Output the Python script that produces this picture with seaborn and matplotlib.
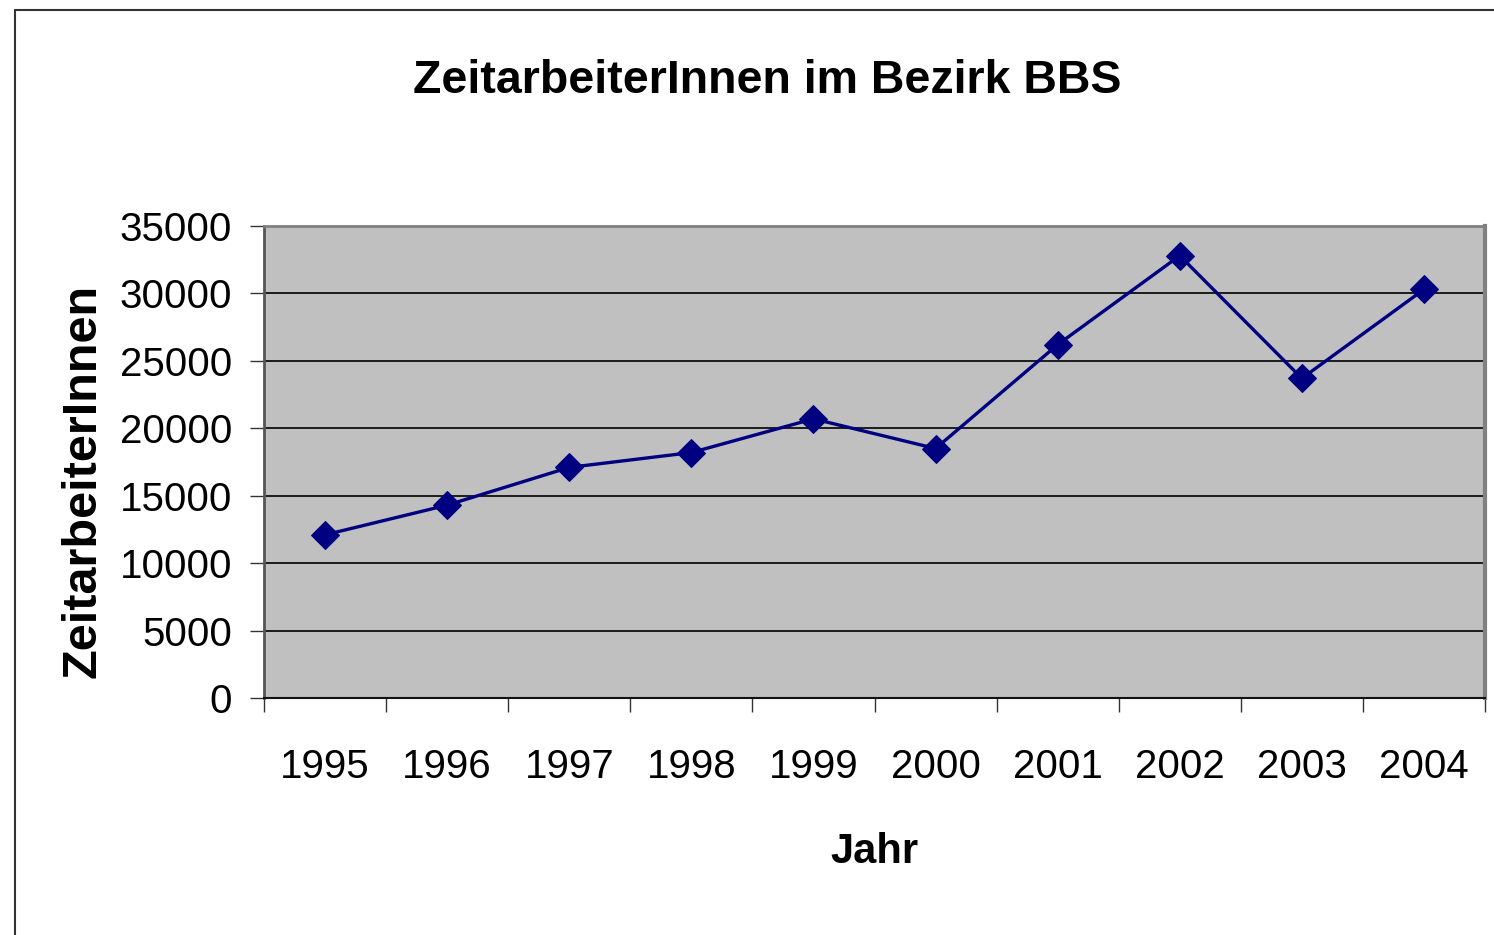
import matplotlib
matplotlib.use("Agg")
import matplotlib.pyplot as plt
from matplotlib.lines import Line2D
from matplotlib.ticker import FixedLocator
import seaborn as sns
import pandas as pd

# ── Data ────────────────────────────────────────────────────────────────────
years = [1995, 1996, 1997, 1998, 1999, 2000, 2001, 2002, 2003, 2004]
workers = [12100, 14300, 17100, 18200, 20700, 18500, 26200, 32800, 23700, 30300]
y_ticks = [0, 5000, 10000, 15000, 20000, 25000, 30000, 35000]

df = pd.DataFrame({"Jahr": years, "ZeitarbeiterInnen": workers})

# ── Style ───────────────────────────────────────────────────────────────────
sns.set_style("white")
plt.rcParams["font.family"] = ["Liberation Sans", "DejaVu Sans"]
plt.rcParams["text.color"] = "black"
plt.rcParams["xtick.color"] = "black"
plt.rcParams["ytick.color"] = "black"

fig = plt.figure(figsize=(14.94, 9.35), dpi=100)
ax = fig.add_axes([264 / 1494, 1 - 698 / 935, (1485 - 264) / 1494, (698 - 226) / 935])
ax.set_facecolor("#C0C0C0")

sns.lineplot(data=df, x="Jahr", y="ZeitarbeiterInnen", ax=ax,
             color="#000080", linewidth=2.4, marker="D", markersize=14,
             markeredgecolor="#000080", zorder=3)

ax.set_xlim(years[0] - 0.5, years[-1] + 0.5)
ax.set_ylim(0, 35000)
ax.set_yticks(y_ticks)
ax.set_yticklabels([str(v) for v in y_ticks])
ax.set_xticks(years)
ax.set_xticklabels([str(y) for y in years])
ax.xaxis.set_minor_locator(FixedLocator([y - 0.5 for y in years] + [years[-1] + 0.5]))

ax.tick_params(axis="y", which="major", direction="out", length=10, width=1,
               color="#333333", labelsize=29, pad=13, left=True)
ax.tick_params(axis="x", which="major", length=0, labelsize=29, pad=36)
ax.tick_params(axis="x", which="minor", direction="out", length=10, width=1,
               color="#333333", bottom=True)

ax.grid(False)
for v in y_ticks[1:-1]:
    ax.axhline(v, color="#000000", linewidth=1.2, zorder=1)

ax.spines["left"].set_color("#555555")
ax.spines["left"].set_linewidth(2)
ax.spines["top"].set_color("#808080")
ax.spines["top"].set_linewidth(2)
ax.spines["right"].set_color("#808080")
ax.spines["right"].set_linewidth(3)
ax.spines["bottom"].set_color("#111111")
ax.spines["bottom"].set_linewidth(1.5)
for s in ax.spines.values():
    s.set_visible(True)

ax.set_xlabel("")
ax.set_ylabel("")

# ── Texts ───────────────────────────────────────────────────────────────────
fig.text(767 / 1494, 1 - 81 / 935, "ZeitarbeiterInnen im Bezirk BBS",
         ha="center", va="center", fontsize=33.5, fontweight="bold")
fig.text(83 / 1494, 1 - 481 / 935, "ZeitarbeiterInnen", rotation=90,
         ha="center", va="center", fontsize=35, fontweight="bold")
fig.text(874 / 1494, 1 - 852 / 935, "Jahr",
         ha="center", va="center", fontsize=30, fontweight="bold")

# outer chart frame (left and top edges visible)
fig.add_artist(Line2D([15 / 1494, 15 / 1494], [0, 1 - 10 / 935],
                      transform=fig.transFigure, color="#333333", linewidth=1.5))
fig.add_artist(Line2D([15 / 1494, 1], [1 - 10 / 935, 1 - 10 / 935],
                      transform=fig.transFigure, color="#333333", linewidth=1.5))

fig.savefig("out.png", dpi=100)
plt.close()
